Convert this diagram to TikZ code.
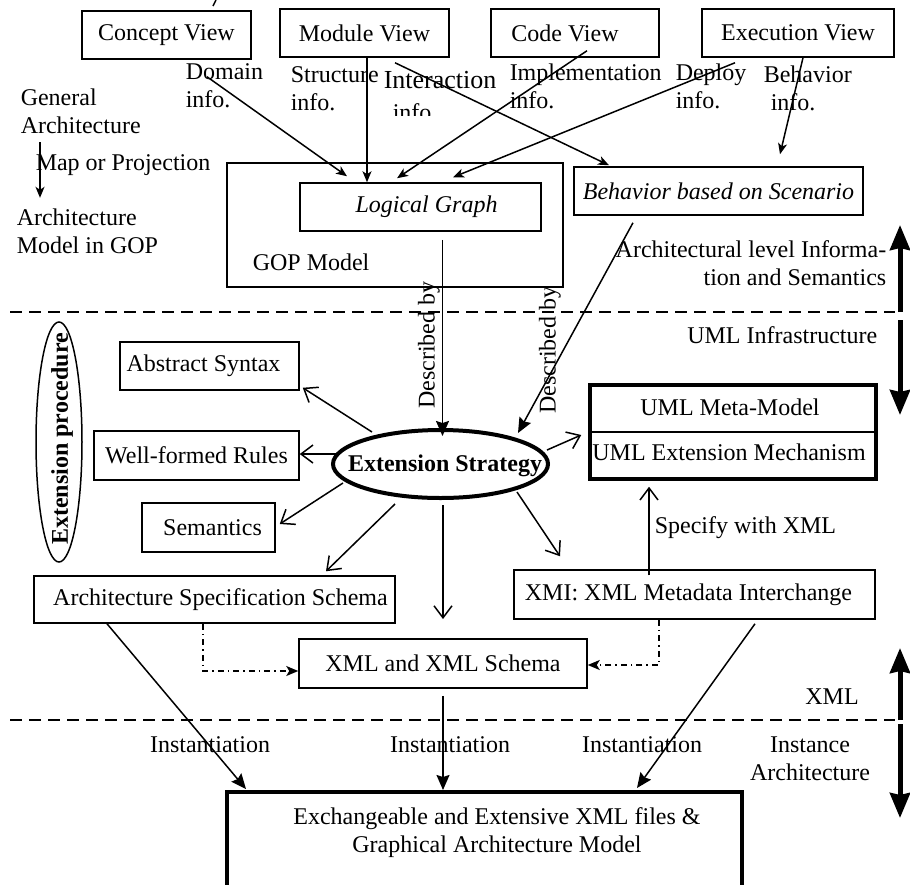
\documentclass[tikz,border=0pt]{standalone}
\usepackage{fontspec}
\setmainfont{Liberation Serif}
\usetikzlibrary{arrows.meta,shapes.geometric}

\begin{document}
\begin{tikzpicture}[x=1pt,y=-1pt,
  font=\fontsize{24}{28}\selectfont, line width=1.5pt,
  box/.style={draw, rectangle, inner sep=0pt, line width=1.5pt},
  thickbox/.style={draw, rectangle, inner sep=0pt, line width=4pt},
  lbl/.style={inner sep=0pt},
  arr/.style={-{Stealth[length=11pt,width=9pt,inset=3pt]}},
  openarr/.style={-{Straight Barb[length=12pt,width=18pt]}},
  solidarr/.style={-{Stealth[length=15pt,width=13pt,inset=2pt]}},
  bigarr/.style={line width=5pt,-{Stealth[length=25pt,width=20pt,inset=2pt]}},
  dashdot/.style={dash pattern=on 6pt off 4pt on 1.5pt off 4pt,
                  -{Stealth[length=12pt,width=10pt,inset=3pt]}},
  layerline/.style={dash pattern=on 12pt off 7pt}]

\clip (0,0) rectangle (910,884);

% stray stroke at the top edge
\draw (216,0) -- (213,6);

% ---- views ----
\node[box, minimum width=169, minimum height=48] (cv) at (166.5,35) {Concept View};
\node[box, minimum width=169, minimum height=48] (mv) at (364.5,33) {Module View};
\node[box, minimum width=168, minimum height=48] (codev) at (575,33) {\hspace*{-20pt}Code View};
\node[box, minimum width=192, minimum height=48] (ev) at (798,33) {Execution View};

% ---- information labels ----
\node[lbl, anchor=west, align=left] (ldom) at (185,86) {Domain\\info.};
\node[lbl, anchor=west, align=left] (lstr) at (290,89) {Structure\\info.};
\begin{scope}
  \clip (370,50) rectangle (520,115);
  \node[lbl, anchor=west, font=\fontsize{26}{28}\selectfont] (lint) at (383,80) {Interaction};
  \node[lbl, anchor=west] (lint2) at (392,112) {info};
\end{scope}
\node[lbl, anchor=west, align=left] (limp) at (509,86) {Implementation\\info.};
\node[lbl, anchor=west, align=left] (ldep) at (675,86) {Deploy\\info.};
\node[lbl, anchor=west, align=left] (lbeh) at (763,88) {Behavior\\\hspace*{7pt}info.};

% ---- legend on the left ----
\node[lbl, anchor=west, align=left] (gen) at (20,111) {General\\Architecture};
\node[lbl, anchor=west] (map) at (35,165) {Map or Projection};
\node[lbl, anchor=west, align=left] (agop) at (16,231) {Architecture\\Model in GOP};
\draw[arr] ([shift={(20,8)}]gen.south west) -- ([shift={(24,-10)}]agop.north west);

% ---- GOP model ----
\node[box, minimum width=336, minimum height=124] (gop) at (395,225) {};
\node[lbl, anchor=west] (goplbl) at (252,262) {GOP Model};
\node[box, minimum width=241, minimum height=48] (lg) at (420.5,207) {\hspace*{12pt}\itshape Logical Graph};
\node[box, minimum width=289, minimum height=48] (beh) at (718.5,191) {\itshape Behavior based on Scenario};

\draw[arr] ([shift={(40.5,17)}]cv.south) -- ([shift={(-73.5,-6)}]lg.north);
\draw[arr] ([shift={(2.5,0)}]mv.south) -- ([shift={(2.5,0)}]mv.south |- lg.north);
\draw[arr] ([shift={(12,-7)}]codev.south) -- ([shift={(-23.5,-4)}]lg.north);
\draw[arr] ([shift={(-63,5)}]ev.south) -- ([shift={(32.5,-5)}]lg.north);
\draw[arr] ([shift={(30.5,5)}]mv.south) -- ([shift={(-109.5,-1)}]beh.north);
\draw[arr] ([shift={(5,0)}]ev.south) -- ([shift={(61.5,-12)}]beh.north);

% ---- layer separators ----
\draw[layerline] (10,312) -- (895,312);
\draw[layerline] (10,720) -- (895,720);

% ---- layer annotations on the right ----
\node[lbl, anchor=east, align=right] (archinfo) at (887,263.5) {Architectural level Informa-\\tion and Semantics};
\node[lbl, anchor=east] (umlinf) at (878,335) {UML Infrastructure};
\node[lbl] (xmllay) at (832,697) {XML};
\node[lbl, align=center] (inst) at (810,758.5) {Instance\\Architecture};

\coordinate (up1a) at (900,312);
\coordinate (up1b) at (900,225);
\coordinate (dn1a) at (900,320);
\coordinate (dn1b) at (900,415);
\coordinate (up2a) at (900,720);
\coordinate (up2b) at (900,648);
\coordinate (dn2a) at (900,724);
\coordinate (dn2b) at (900,818);
\draw[bigarr] (up1a) -- (up1b);
\draw[bigarr] (dn1a) -- (dn1b);
\draw[bigarr] (up2a) -- (up2b);
\draw[bigarr] (dn2a) -- (dn2b);

% ---- extension procedure ----
\node[draw, ellipse, line width=1.5pt, inner sep=0pt, minimum width=46, minimum height=240] (ep) at (59,442) {};
\node[lbl, rotate=90, font=\fontsize{24}{28}\selectfont\bfseries] (eplbl) at (62,439) {Extension procedure};

\node[draw, ellipse, line width=4pt, inner sep=0pt, minimum width=215, minimum height=68] (es) at (440.5,464) {};
\node[lbl, font=\fontsize{24}{28}\selectfont\bfseries] (eslbl) at (445,466) {Extension Strategy};

\node[box, minimum width=179, minimum height=48] (as) at (209.5,366) {\hspace*{-12pt}Abstract Syntax};
\node[box, minimum width=205, minimum height=49] (wf) at (196.5,455.5) {Well-formed Rules};
\node[box, minimum width=133, minimum height=49] (sem) at (208.5,527.5) {\hspace*{8pt}Semantics};
\node[box, minimum width=361, minimum height=47] (asc) at (214.5,599.5) {\hspace*{12pt}Architecture Specification Schema};
\node[box, minimum width=361, minimum height=49] (xmi) at (694.5,594.5) {\hspace*{-12pt}XMI: XML Metadata Interchange};
\node[box, minimum width=288, minimum height=49] (xml) at (443,663.5) {XML and XML Schema};

\node[thickbox, line width=3.5pt, minimum width=286, minimum height=94] (uml) at (733,432) {};
\draw (uml.west) -- (uml.east);
\node[lbl] (umlmm) at (730,407) {UML Meta-Model};
\node[lbl] (umlem) at (729,452) {UML Extension Mechanism};

% described by
\draw[solidarr] ([shift={(22,8)}]lg.south) -- ([shift={(22,8)}]lg.south |- es.north);
\node[lbl, rotate=90] (db1) at (429,345) {Described by};
\draw[solidarr] ([shift={(-85.5,7)}]beh.south) -- ([shift={(77.5,-31)}]es.center);
\node[lbl, rotate=90] (db2) at (550,350) {Described by};

% outgoing from the extension strategy
\coordinate (xmlin) at (443,619);
\draw[openarr] ([shift={(-68.5,-32)}]es.center) -- ([shift={(3,-3)}]as.south east);
\draw[openarr] ([shift={(-103.5,-10)}]es.center) -- ([shift={(0,-1.5)}]wf.east);
\draw[openarr] ([shift={(-97.5,19)}]es.center) -- ([shift={(4,-3.5)}]sem.east);
\draw[openarr] ([shift={(-45.5,40)}]es.center) -- ([shift={(111.5,-4)}]asc.north);
\draw[openarr] ([shift={(2.5,5)}]es.south) -- (xmlin);
\draw[openarr] ([shift={(76.5,28)}]es.center) -- ([shift={(-134.5,-13)}]xmi.north);
\draw[openarr] ([shift={(106.5,-14)}]es.center) -- ([shift={(-7,3)}]uml.west);

% specify with XML
\draw[openarr] ([shift={(-45.5,6)}]xmi.north) -- ([shift={(-84,6)}]uml.south);
\node[lbl, anchor=west] (spec) at (654,528) {Specify with XML};

% schema links
\draw[dashdot] ([shift={(-11.5,0)}]asc.south) |- ([shift={(0,7.5)}]xml.west);
\draw[dashdot] ([shift={(-35.5,0)}]xmi.south) |- ([shift={(0,1.5)}]xml.east);

% ---- instance level ----
\node[thickbox, minimum width=515, minimum height=108] (out) at (484.5,846) {};
\node[lbl, align=center] (outlbl) at (497,832.5) {Exchangeable and Extensive XML files \&\\Graphical Architecture Model};

\draw[solidarr] ([shift={(-107.5,0)}]asc.south) -- ([shift={(21,-1)}]out.north west);
\draw[solidarr] ([shift={(0,7)}]xml.south) -- (xml.south |- out.north);
\draw[solidarr] ([shift={(60.5,4)}]xmi.south) -- ([shift={(152.5,-2)}]out.north);

\node[lbl] (inst1) at (210,745) {Instantiation};
\node[lbl] (inst2) at (450,745) {Instantiation};
\node[lbl] (inst3) at (642,745) {Instantiation};

\end{tikzpicture}
\end{document}
